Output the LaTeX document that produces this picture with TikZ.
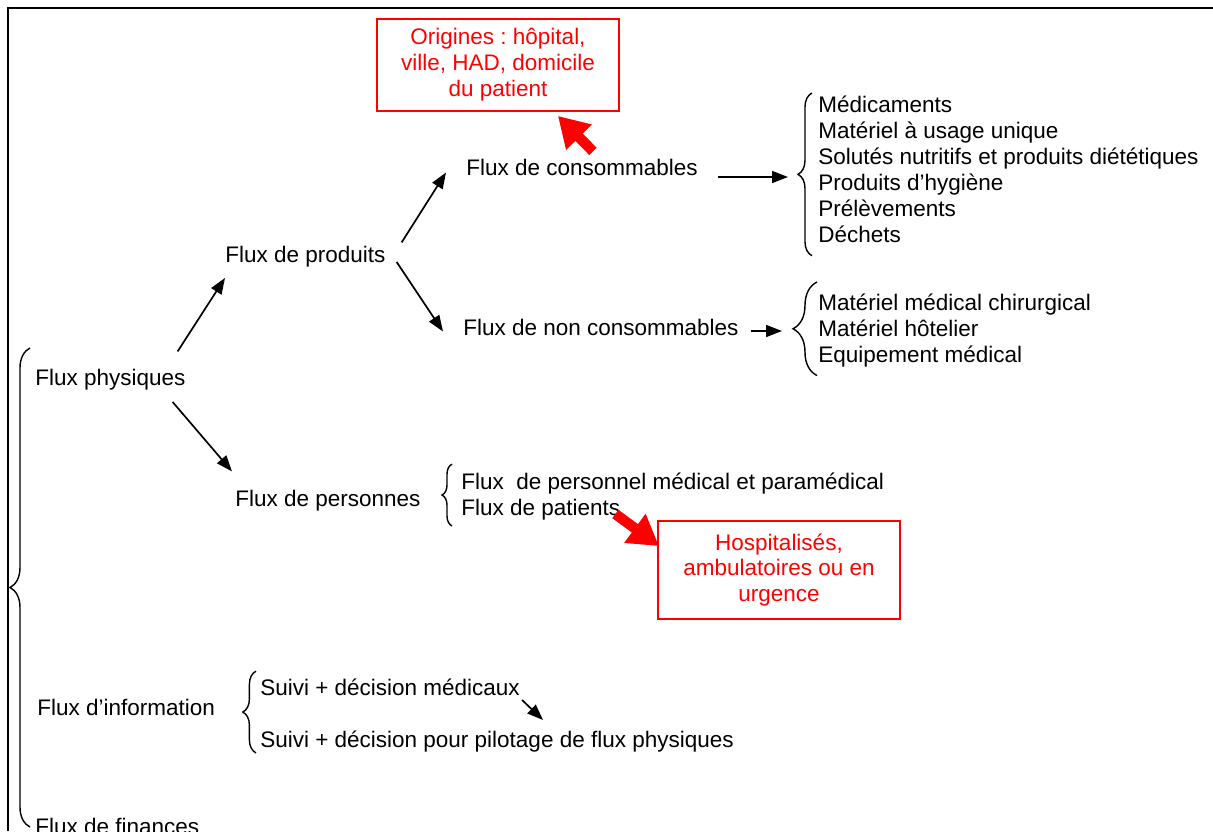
\documentclass[tikz,border=0pt]{standalone}
\usepackage{fontspec}
\setmainfont{Liberation Sans}
\usetikzlibrary{positioning,calc,arrows.meta,decorations.pathreplacing}

\tikzset{
  txt/.style={inner sep=0pt, anchor=base west},
  lst/.style={inner sep=0pt, anchor=north west, align=left},
  arr/.style={line width=1.2pt, -{Triangle[length=0.4cm,width=0.3cm]}},
  bigarr/.style={red, line width=0.26cm, -{Triangle[length=0.75cm,width=0.85cm]}},
  brc/.style={decorate, decoration={brace, amplitude=#1}, line width=1pt},
  redbox/.style={draw=red, text=red, line width=1.3pt, align=center, minimum width=6.05cm, inner sep=0pt},
}

\begin{document}
\begin{tikzpicture}[x=0.025cm, y=-0.025cm, font=\fontsize{16}{18.4}\selectfont]
		\useasboundingbox (0,0) rectangle (1213,831);
		\draw[line width=0.07cm] (1213,8) -- (8,8) -- (8,831);

		% first level
		\node[txt] (phys) at (35,385) {Flux physiques};
		\node[txt] (info) at (37,715) {Flux d’information};
		\node[txt] (fin) at (35,834) {Flux de finances};
		\draw[brc=0.5cm] (30,827) -- (30,348);

		% physical flows
		\node[txt] (prod) at (225,262) {Flux de produits};
		\node[txt] (pers) at (235,506) {Flux de personnes};
		\draw[arr] ($(phys.north east)+(-8,-17)$) -- ($(prod.south west)+(0,11)$);
		\draw[arr] ($(phys.south east)+(-13,12)$) -- ($(pers.north west)+(-3,-18)$);

		\node[txt] (cons) at (466,175) {Flux de consommables};
		\node[txt] (noncons) at (463,335) {Flux de non consommables};
		\draw[arr] ($(prod.north east)+(16,-3)$) -- ($(cons.south west)+(-20,-3)$);
		\draw[arr] ($(prod.south east)+(11,-5)$) -- ($(noncons.south west)+(-20,-4)$);

		\node[lst] (conso) at (818,96) {Médicaments\\Matériel à usage unique\\Solutés nutritifs et produits diététiques\\Produits d’hygiène\\Prélèvements\\Déchets};
		\draw[brc=0.35cm] ($(conso.south west)+(-6,13)$) -- ($(conso.north west)+(-6,-3)$);
		\draw[arr] ($(cons.base east)+(20,2)$) -- ($(cons.base east -| conso.west)+(-30,2)$);

		\node[lst] (nc) at (818,294) {Matériel médical chirurgical\\Matériel hôtelier\\Equipement médical};
		\draw[brc=0.6cm] ($(nc.south west)+(-1,8)$) -- ($(nc.north west)+(-1,-12)$);
		\draw[arr] ($(noncons.base east)+(12,-4)$) -- ($(noncons.base east -| nc.west)+(-36,-4)$);

		\node[txt] (pers1) at (461,489) {Flux~ de personnel médical et paramédical};
		\node[txt] (pers2) at (461,515) {Flux de patients};
		\draw[brc=0.25cm] ($(pers2.south west)+(-9,6)$) -- ($(pers1.north west)+(-9,-8)$);

		% notes in red
		\node[redbox, minimum height=2.3cm] (orig) at (498,65) {Origines :\ hôpital,\\ville, HAD, domicile\\du patient};
		\node[redbox, minimum height=2.45cm] (hosp) at (779,570) {Hospitalisés,\\ambulatoires ou en\\urgence};
		\draw[bigarr] ($(cons.north west)+(127,-7)$) -- ($(orig.south east)+(-62,4)$);
		\draw[bigarr] ($(pers2.base east)+(-5,-1)$) -- ($(hosp.north west)+(2,26)$);

		% information
		\node[txt] (s1) at (260,695) {Suivi + décision médicaux};
		\node[txt] (s2) at (260,747) {Suivi + décision pour pilotage de flux physiques};
		\draw[brc=0.33cm] ($(s2.south west)+(-4,1)$) -- ($(s1.north west)+(-4,-7)$);
		\draw[arr] ($(s1.base east)+(2,5)$) -- ($(s1.base east)+(23,25)$);
	\end{tikzpicture}
\end{document}
